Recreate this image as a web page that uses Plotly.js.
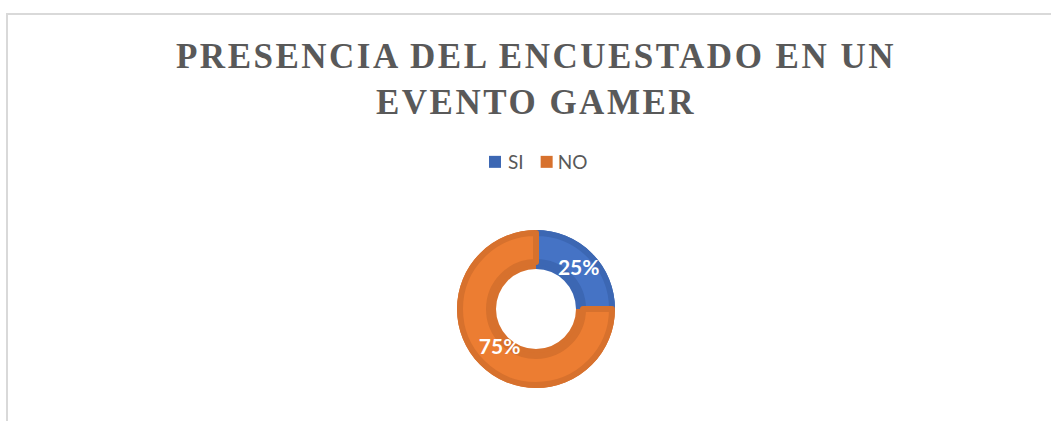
<!DOCTYPE html>
<html>
<head>
<meta charset="utf-8">
<script src="https://cdn.plot.ly/plotly-3.0.1.min.js"></script>
<style>
  html, body { margin: 0; padding: 0; background: #ffffff; overflow: hidden; }
  #chart { width: 1051px; height: 421px; position: absolute; left: 0; top: 0; }
  #frame { position: absolute; left: 6px; top: 13px; width: 1100px; height: 500px;
           border-left: 2px solid #d9d9d9; border-top: 2px solid #d9d9d9; pointer-events: none; }
  #chart .gtitle { letter-spacing: 2.5px; }
</style>
</head>
<body>
<div id="chart"></div>
<div id="frame"></div>
<script>
// Data
const categories = ['SI', 'NO'];
const values = [25, 75];
const titleText = 'PRESENCIA DEL ENCUESTADO EN UN<br>EVENTO GAMER';

const darkColors = ['#3C67B3', '#D7712D'];
const lightColors = ['#4573C5', '#EC7D32'];

const W = 1051, H = 421;
const cx = 536, cy = 309;
function dom(r) {
  return {
    x: [(cx - r) / W, (cx + r) / W],
    y: [(H - cy - r) / H, (H - cy + r) / H]
  };
}

const common = {
  type: 'pie',
  labels: categories,
  values: values,
  sort: false,
  direction: 'clockwise',
  rotation: 0,
  hoverinfo: 'none'
};

const baseTrace = Object.assign({}, common, {
  hole: 40 / 79,
  domain: dom(79),
  marker: { colors: darkColors, line: { width: 0 } },
  textinfo: 'none',
  showlegend: true
});

const bevelTrace = Object.assign({}, common, {
  hole: 47 / 76,
  domain: dom(76),
  marker: { colors: lightColors, line: { width: 6, color: darkColors } },
  textinfo: 'none',
  showlegend: false
});

// transparent pie that only carries the percentage labels
const labelsTrace = Object.assign({}, common, {
  hole: 0,
  domain: dom(103),
  marker: { colors: ['rgba(0,0,0,0)', 'rgba(0,0,0,0)'], line: { width: 0 } },
  textinfo: 'percent',
  textposition: 'inside',
  insidetextorientation: 'horizontal',
  insidetextfont: { family: 'Lato, "Open Sans", sans-serif', size: 21, color: '#ffffff', weight: 'bold' },
  showlegend: false
});

const layout = {
  width: W,
  height: H,
  margin: { l: 0, r: 0, t: 0, b: 0 },
  paper_bgcolor: '#ffffff',
  title: {
    text: titleText,
    font: { family: '"Liberation Serif", "Times New Roman", serif', size: 35, color: '#595959', weight: 'bold' },
    x: 0.51,
    xanchor: 'center',
    y: 1 - 68 / H,
    yanchor: 'top',
    yref: 'container'
  },
  showlegend: true,
  legend: {
    orientation: 'h',
    x: 0.51,
    xanchor: 'center',
    y: 1 - 143 / H,
    yanchor: 'top',
    font: { family: 'Lato, "Open Sans", sans-serif', size: 19, color: '#595959' },
    itemclick: false,
    itemdoubleclick: false
  }
};

// small horizontal nudges of legend symbol / text to tighten the legend like the original
const legendNudges = [{ sym: 7, txt: 0 }, { sym: -2, txt: -11 }];

function shift(el, dx) {
  if (!el) return;
  const t = el.getAttribute('transform') || '';
  el.setAttribute('transform', (t + ' translate(' + dx + ',0)').trim());
}

Plotly.newPlot('chart', [baseTrace, bevelTrace, labelsTrace], layout, { staticPlot: true, displayModeBar: false })
  .then(function () {
    const items = document.querySelectorAll('#chart .legend .traces');
    items.forEach(function (g, i) {
      const n = legendNudges[i];
      if (!n) return;
      shift(g.querySelector('.legendpoints'), n.sym);
      shift(g.querySelector('.legendtext'), n.txt);
    });
  });
</script>
</body>
</html>
